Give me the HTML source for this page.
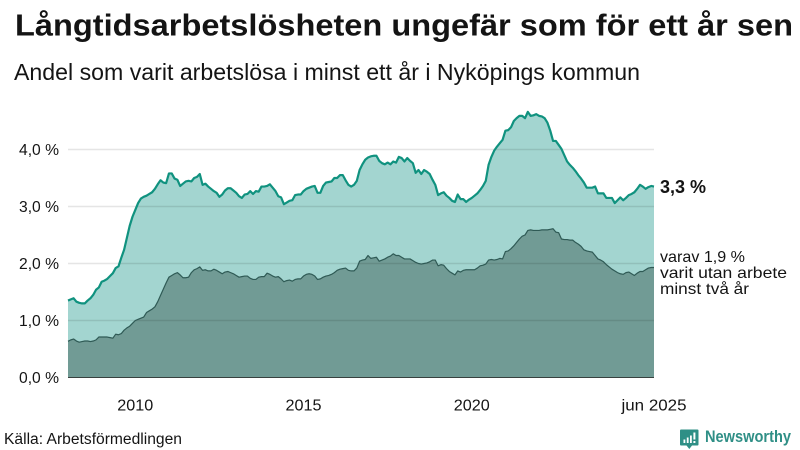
<!DOCTYPE html>
<html lang="sv">
<head>
<meta charset="utf-8">
<title>Långtidsarbetslösheten</title>
<style>
html,body{margin:0;padding:0;background:#fff;}
svg{display:block;}
text{font-family:"Liberation Sans",sans-serif;fill:#141414;}
</style>
</head>
<body>
<svg id="chart" width="800" height="450" viewBox="0 0 800 450" xmlns="http://www.w3.org/2000/svg">
  <text x="15" y="35.5" font-size="31" font-weight="700" textLength="778" lengthAdjust="spacingAndGlyphs">Långtidsarbetslösheten ungefär som för ett år sen</text>
  <text x="14" y="80" font-size="23" textLength="626" lengthAdjust="spacingAndGlyphs">Andel som varit arbetslösa i minst ett år i Nyköpings kommun</text>
  <g id="areas"></g>
  <g id="grid"></g>
  <g id="lines"></g>
  <g id="yticks"></g>
  <g id="xticks"></g>
  <text x="660" y="193" font-size="18" font-weight="700" textLength="46" lengthAdjust="spacingAndGlyphs">3,3 %</text>
  <g>
    <text x="660" y="262" font-size="16" textLength="85" lengthAdjust="spacingAndGlyphs">varav 1,9 %</text>
    <text x="660" y="278" font-size="16" textLength="127" lengthAdjust="spacingAndGlyphs">varit utan arbete</text>
    <text x="660" y="294" font-size="16" textLength="89" lengthAdjust="spacingAndGlyphs">minst två år</text>
  </g>
  <text x="4" y="444" font-size="15.5" textLength="178" lengthAdjust="spacingAndGlyphs">Källa: Arbetsförmedlingen</text>
  <g>
    <path d="M681 429.5H697.5Q698.5 429.5 698.5 430.5V444.5Q698.5 445.5 697.5 445.5H692L689.3 449L686.5 445.5H681Q680 445.5 680 444.5V430.5Q680 429.5 681 429.5Z" fill="#2f8f86"/>
    <path d="M683.5 443V439.5H685.3V443ZM686.8 443V437.5H688.6V443ZM690 443V435.5H691.8V443ZM693.4 439.5V432.5H695.4V439.5ZM693.4 443V441H695.4V443Z" fill="#fff"/>
    <text x="705" y="442" font-size="16.5" font-weight="700" textLength="86" lengthAdjust="spacingAndGlyphs" style="fill:#2f8f86">Newsworthy</text>
  </g>
</svg>
<script>
const startYear = 2008;
const totalShare = [
  1.35,1.37,1.39,1.33,1.31,1.30,1.30,1.35,1.39,1.45,1.54,1.58,
  1.68,1.70,1.73,1.78,1.83,1.92,1.95,2.10,2.24,2.45,2.66,2.82,
  2.94,3.06,3.14,3.17,3.19,3.22,3.25,3.31,3.39,3.46,3.42,3.41,
  3.58,3.58,3.49,3.47,3.36,3.40,3.44,3.45,3.44,3.50,3.52,3.57,
  3.38,3.40,3.35,3.31,3.27,3.24,3.17,3.21,3.28,3.32,3.32,3.28,
  3.24,3.18,3.15,3.21,3.22,3.27,3.22,3.27,3.26,3.35,3.35,3.36,
  3.39,3.33,3.27,3.18,3.16,3.04,3.07,3.10,3.11,3.20,3.21,3.21,
  3.27,3.31,3.33,3.35,3.36,3.24,3.24,3.36,3.42,3.43,3.44,3.50,
  3.50,3.55,3.55,3.46,3.38,3.35,3.38,3.45,3.64,3.74,3.82,3.86,
  3.88,3.89,3.89,3.80,3.76,3.74,3.77,3.74,3.79,3.77,3.87,3.85,
  3.79,3.85,3.80,3.76,3.59,3.64,3.57,3.64,3.61,3.57,3.47,3.38,
  3.20,3.23,3.25,3.19,3.15,3.10,3.08,3.21,3.13,3.13,3.08,3.12,
  3.15,3.19,3.23,3.29,3.36,3.45,3.73,3.87,3.98,4.05,4.11,4.17,
  4.33,4.34,4.39,4.50,4.55,4.59,4.59,4.55,4.66,4.59,4.60,4.62,
  4.59,4.58,4.55,4.47,4.33,4.15,4.15,4.08,4.01,3.90,3.79,3.73,
  3.68,3.62,3.55,3.49,3.42,3.33,3.33,3.33,3.35,3.23,3.23,3.23,
  3.15,3.15,3.15,3.06,3.11,3.16,3.11,3.15,3.20,3.22,3.25,3.31,
  3.38,3.35,3.31,3.34,3.36,3.35
];
const twoYearShare = [
  0.635,0.66,0.675,0.64,0.62,0.63,0.64,0.64,0.63,0.64,0.66,0.71,
  0.71,0.71,0.71,0.70,0.69,0.76,0.75,0.77,0.83,0.87,0.90,0.95,
  1.00,1.02,1.04,1.06,1.14,1.17,1.20,1.24,1.33,1.44,1.55,1.66,
  1.76,1.79,1.82,1.84,1.80,1.75,1.75,1.76,1.84,1.89,1.91,1.94,
  1.88,1.89,1.87,1.87,1.90,1.88,1.85,1.82,1.85,1.86,1.84,1.82,
  1.79,1.76,1.77,1.78,1.78,1.74,1.72,1.72,1.76,1.77,1.77,1.83,
  1.81,1.78,1.76,1.77,1.73,1.68,1.70,1.71,1.69,1.72,1.73,1.73,
  1.78,1.81,1.82,1.81,1.78,1.72,1.73,1.76,1.78,1.79,1.81,1.84,
  1.88,1.90,1.91,1.92,1.88,1.87,1.87,1.92,2.04,2.06,2.07,2.14,
  2.09,2.10,2.11,2.04,2.06,2.08,2.11,2.13,2.17,2.14,2.14,2.11,
  2.08,2.08,2.08,2.05,2.02,2.00,1.99,2.00,2.01,2.03,2.06,2.06,
  1.96,1.98,1.97,1.91,1.86,1.83,1.80,1.87,1.85,1.88,1.89,1.89,
  1.89,1.89,1.92,1.96,1.97,1.99,2.06,2.07,2.06,2.07,2.09,2.08,
  2.21,2.22,2.26,2.31,2.37,2.43,2.48,2.50,2.58,2.59,2.58,2.58,
  2.58,2.59,2.59,2.59,2.60,2.61,2.55,2.54,2.43,2.42,2.42,2.41,
  2.41,2.37,2.34,2.30,2.24,2.22,2.21,2.20,2.14,2.08,2.06,2.03,
  1.98,1.94,1.90,1.87,1.84,1.82,1.81,1.84,1.85,1.82,1.79,1.83,
  1.86,1.86,1.89,1.92,1.93,1.93
];
const yTickValues = [0, 1, 2, 3, 4];
const yTickLabels = ["0,0 %", "1,0 %", "2,0 %", "3,0 %", "4,0 %"];
const xTickMonthIndex = [24, 84, 144, 209];
const xTickLabels = ["2010", "2015", "2020", "jun 2025"];

const NS = "http://www.w3.org/2000/svg";
const plotLeft = 68, plotRight = 654, plotBottom = 377.5, unitHeight = 57;
function xScale(i) { return plotLeft + i * (plotRight - plotLeft) / (totalShare.length - 1); }
function yScale(v) { return plotBottom - v * unitHeight; }
function make(tag, attrs, parentId) {
  const el = document.createElementNS(NS, tag);
  for (const k in attrs) el.setAttribute(k, attrs[k]);
  document.getElementById(parentId).appendChild(el);
  return el;
}
function linePath(values) {
  return values.map((v, i) => (i ? "L" : "M") + xScale(i).toFixed(2) + " " + yScale(v).toFixed(2)).join("");
}
function areaPath(values) {
  return linePath(values) + "L" + xScale(values.length - 1).toFixed(2) + " " + plotBottom + "L" + xScale(0).toFixed(2) + " " + plotBottom + "Z";
}

const totalArea = make("path", {d: areaPath(totalShare), fill: "#a3d5d0"}, "areas");


const twoYearArea = make("path", {d: areaPath(twoYearShare), fill: "#719b95"}, "areas");



yTickValues.forEach((v, i) => {
  if (v !== 0) {
    const g = make("line", {x1: plotLeft, x2: plotRight, y1: yScale(v), y2: yScale(v), stroke: "rgba(0,0,0,0.1)", "stroke-width": 1.6}, "grid");
    
    
  }
  const t = make("text", {x: 59, y: yScale(v) + 5.5, "font-size": 16, "text-anchor": "end", textLength: 40, lengthAdjust: "spacingAndGlyphs"}, "yticks");
  t.textContent = yTickLabels[i];
  
  
});

const totalLine = make("path", {d: linePath(totalShare), fill: "none", stroke: "#10927f", "stroke-width": 2.2, "stroke-linejoin": "round"}, "lines");


const twoYearLine = make("path", {d: linePath(twoYearShare), fill: "none", stroke: "#2f5a55", "stroke-width": 1.2, "stroke-linejoin": "round"}, "lines");


const baseline = make("line", {x1: plotLeft, x2: plotRight, y1: plotBottom, y2: plotBottom, stroke: "#38413f", "stroke-width": 1}, "lines");



xTickLabels.forEach((label, i) => {
  const t = make("text", {x: xScale(xTickMonthIndex[i]), y: 410.5, "font-size": 16, "text-anchor": "middle", textLength: label.length > 4 ? 65 : 36, lengthAdjust: "spacingAndGlyphs"}, "xticks");
  t.textContent = label;
  
  
});
</script>
</body>
</html>
